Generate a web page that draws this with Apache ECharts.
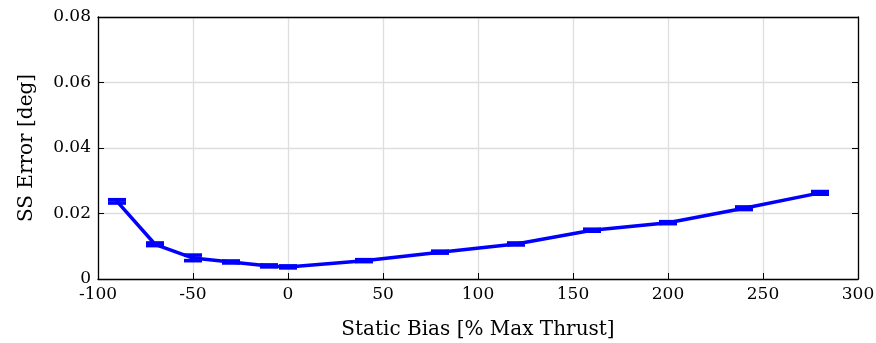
<!DOCTYPE html>
<html><head><meta charset="utf-8">
<script src="https://cdn.jsdelivr.net/npm/echarts@6/dist/echarts.min.js"></script>
<style>html,body{margin:0;padding:0;background:#fff}#c{width:876px;height:343px}</style>
</head><body><div id="c"></div>
<script>
const bias = [-90, -70, -50, -30, -10, 0, 40, 80, 120, 160, 200, 240, 280];
const ssError = [0.0237, 0.0106, 0.0064, 0.0052, 0.0040, 0.0037, 0.0056, 0.0082, 0.0107, 0.0149, 0.0172, 0.0216, 0.0263];
const errLow = [0.0232, 0.0102, 0.0056, 0.0049, 0.0037, 0.0034, 0.0053, 0.0079, 0.0104, 0.0146, 0.0169, 0.0212, 0.0259];
const errHigh = [0.0242, 0.0110, 0.0073, 0.0055, 0.0043, 0.0040, 0.0059, 0.0085, 0.0110, 0.0152, 0.0175, 0.0220, 0.0267];
const xTicks = [-100, -50, 0, 50, 100, 150, 200, 250, 300];
const yTicks = [0, 0.02, 0.04, 0.06, 0.08];

const FONT = 'DejaVu Serif';
const chart = echarts.init(document.getElementById('c'));
const lineData = bias.map((x, i) => [x, ssError[i]]);
const errData = bias.map((x, i) => [x, errLow[i], errHigh[i]]);
const axisLine = {show: true, onZero: false, lineStyle: {color: '#000', width: 1.3}};
const xMin = xTicks[0], xMax = xTicks[xTicks.length - 1];
const yMin = yTicks[0], yMax = yTicks[yTicks.length - 1];
chart.setOption({
  animation: false,
  grid: {left: 98, right: 18, top: 17, bottom: 64, outerBoundsMode: 'none', containLabel: false},
  xAxis: [{
    type: 'value', min: xMin, max: xMax, interval: 50,
    axisLine: axisLine, axisTick: {show: true, inside: true, length: 6, lineStyle: {color: '#000'}},
    axisLabel: {color: '#000', fontFamily: FONT, fontSize: 17, margin: 7,
      formatter: v => String(v)},
    splitLine: {show: true, lineStyle: {color: '#dedede', width: 1.3}},
    name: 'Static Bias [% Max Thrust]', nameLocation: 'middle', nameGap: 41,
    nameTextStyle: {color: '#000', fontFamily: FONT, fontSize: 20}
  }, {
    type: 'value', position: 'top', min: xMin, max: xMax, interval: 50,
    axisLine: axisLine, axisTick: {show: false}, axisLabel: {show: false}, splitLine: {show: false}
  }],
  yAxis: [{
    type: 'value', min: yMin, max: yMax, interval: 0.02,
    axisLine: axisLine, axisTick: {show: true, inside: true, length: 6, lineStyle: {color: '#000'}},
    axisLabel: {color: '#000', fontFamily: FONT, fontSize: 17, margin: 7,
      formatter: v => v === 0 ? '0' : v.toFixed(2)},
    splitLine: {show: true, lineStyle: {color: '#dedede', width: 1.3}},
    name: 'SS Error [deg]', nameLocation: 'middle', nameGap: 61, nameRotate: 90,
    nameTextStyle: {color: '#000', fontFamily: FONT, fontSize: 20}
  }, {
    type: 'value', position: 'right', min: yMin, max: yMax, interval: 0.02,
    axisLine: axisLine, axisTick: {show: true, inside: true, length: 6, lineStyle: {color: '#000'}},
    axisLabel: {show: false}, splitLine: {show: false}
  }],
  series: [{
    type: 'line', data: lineData, showSymbol: false, symbol: 'none',
    lineStyle: {color: '#0000ff', width: 3.5}, z: 3
  }, {
    type: 'custom', data: errData, z: 4,
    renderItem: function (params, api) {
      const x = api.value(0);
      const lo = api.coord([x, api.value(1)]);
      const hi = api.coord([x, api.value(2)]);
      const hw = 9;
      const style = {stroke: '#0000ff', lineWidth: 3.6};
      return {type: 'group', children: [
        {type: 'line', shape: {x1: lo[0], y1: lo[1], x2: hi[0], y2: hi[1]}, style: style},
        {type: 'line', shape: {x1: lo[0] - hw, y1: lo[1], x2: lo[0] + hw, y2: lo[1]}, style: style},
        {type: 'line', shape: {x1: hi[0] - hw, y1: hi[1], x2: hi[0] + hw, y2: hi[1]}, style: style}
      ]};
    }
  }]
});
</script></body></html>
